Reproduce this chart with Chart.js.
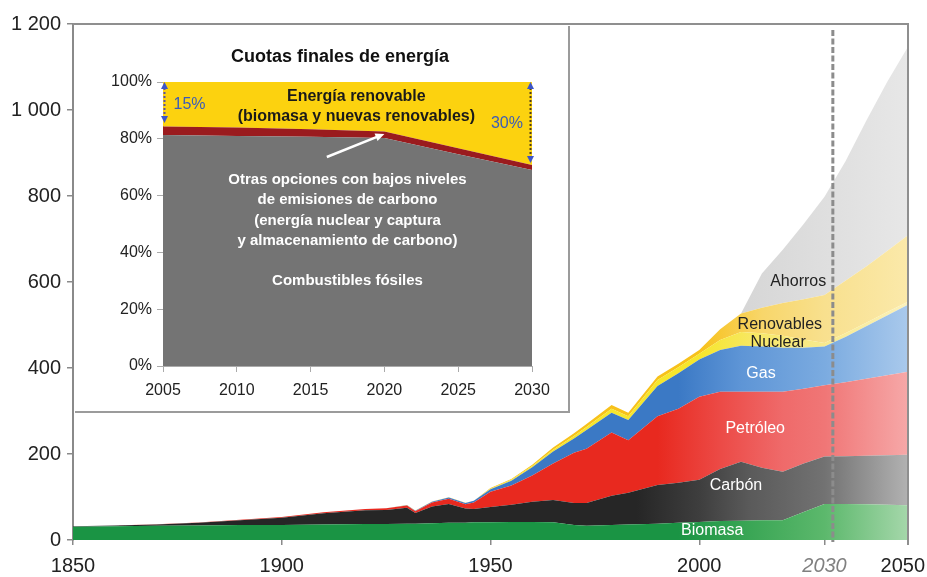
<!DOCTYPE html>
<html>
<head>
<meta charset="utf-8">
<script src="https://cdn.jsdelivr.net/npm/chart.js@4.4.1/dist/chart.umd.min.js"></script>
<style>
body { margin: 0; background: #fff; }
canvas { display: block; }
#wrap { position: relative; width: 927px; height: 577px; }
#inset { position: absolute; left: 75px; top: 26px; width: 495px; height: 387px; background: #fff;
         border-right: 2px solid #9b9b9b; border-bottom: 2px solid #9b9b9b; box-sizing: border-box; }
</style>
</head>
<body>
<div id="wrap">
  <canvas id="main" width="927" height="577"></canvas>
  <div id="inset"><canvas id="share" width="493" height="385"></canvas></div>
</div>
<script>
const FONT = "'Liberation Sans', Arial, sans-serif"

// main chart: energy by source, values of each band (stacked)
const years = [1850, 1860, 1870, 1880, 1890, 1900, 1910, 1920, 1925, 1930,
               1932, 1936, 1940, 1944, 1946, 1950, 1955, 1960, 1965, 1970,
               1973, 1979, 1983, 1990, 1995, 2000, 2005, 2010, 2015, 2020,
               2025, 2030, 2035, 2040, 2045, 2050]
const biomasa    = [31, 32, 33, 34, 35, 35, 36, 37, 37, 38,
                    38, 39, 40, 40, 41, 41, 42, 42, 41, 35,
                    33, 35, 36, 38, 40, 42, 44, 45, 46, 46,
                    65, 84, 84, 83, 82, 81]
const carbon     = [1, 2, 3, 6, 11, 17, 26, 32, 33, 37,
                    25, 39, 44, 33, 31, 36, 40, 47, 52, 51,
                    53, 68, 74, 90, 93, 98, 121, 137, 122, 113,
                    113, 110, 111, 113, 115, 117]
const petroleo   = [0, 0, 0.5, 0.5, 1, 1.5, 2.5, 3, 4, 5,
                    4, 9, 12, 10, 15, 35, 45, 61, 85, 117,
                    126, 147, 122, 160, 172, 193, 180, 163, 177, 186,
                    174, 166, 172, 179, 186, 193]
const gas        = [0, 0, 0, 0, 0, 0, 0, 0, 0, 1,
                    1, 2, 3, 3, 4, 6, 11, 19, 28, 33,
                    44, 46, 47, 70, 83, 87, 97, 107, 105, 102,
                    95, 90, 105, 122, 139, 156]
const nuclear    = [0, 0, 0, 0, 0, 0, 0, 0, 0, 0,
                    0, 0, 0, 0, 0, 1, 2, 3, 4, 6,
                    7, 9, 9, 14, 14, 13, 23, 32, 31, 28,
                    19, 8, 9, 8, 8, 7]
const renovables = [0, 0, 0, 0, 0, 0, 0, 0, 0, 0.5,
                    0.5, 0.5, 0.5, 0.5, 0.5, 2, 2, 3, 5, 6,
                    7, 9, 8, 8, 8, 9, 25, 43, 59, 76,
                    94, 112, 122, 131, 142, 155]
const ahorros    = [0, 0, 0, 0, 0, 0, 0, 0, 0, 0,
                    0, 0, 0, 0, 0, 0, 0, 0, 0, 0,
                    0, 0, 0, 0, 0, 0, 0, 0, 80, 124,
                    175, 228, 277, 339, 393, 438]
const xTicks = [1850, 1900, 1950, 2000, 2030, 2050]
const projectionYear = 2032

// inset: final energy shares (%)
const shareYears = [2005, 2010, 2015, 2020, 2025, 2030]
const fossilShare = [81.3, 81.0, 80.7, 80.3, 74.6, 69.0]
const lowCarbonShare = [3.0, 3.0, 2.7, 2.3, 2.1, 1.8]
const renewableShare = [15.7, 16.0, 16.6, 17.4, 23.3, 29.2]

// colours fade out towards the projection
const series = [
  { name: 'Biomasa', values: biomasa,
    stops: [[1850, '#1a9444'], [1995, '#1a9444'], [2012, '#3aa655'], [2030, '#5cb86c'], [2050, '#a5d7aa']] },
  { name: 'Carbón', values: carbon,
    stops: [[1850, '#262626'], [1985, '#262626'], [2000, '#3e3e3e'], [2012, '#5a5a5a'], [2030, '#727272'], [2050, '#b2b2b2']] },
  { name: 'Petróleo', values: petroleo,
    stops: [[1850, '#e8291f'], [1990, '#e8291f'], [2005, '#ec4a46'], [2020, '#ef6a6a'], [2030, '#f07676'], [2050, '#f6a8a8']] },
  { name: 'Gas', values: gas,
    stops: [[1850, '#3b79c5'], [1995, '#3b79c5'], [2010, '#5e95d6'], [2030, '#7babe0'], [2050, '#a9c9ec']] },
  { name: 'Nuclear', values: nuclear,
    stops: [[1850, '#f6e62c'], [2000, '#f6e62c'], [2015, '#f7e86c'], [2030, '#f8ea8e'], [2050, '#fbf1bb']] },
  { name: 'Renovables', values: renovables,
    stops: [[1850, '#f7c11a'], [2000, '#f7c11a'], [2015, '#f8d66a'], [2030, '#f8e08e'], [2050, '#fbe9aa']] },
  { name: 'Ahorros', values: ahorros,
    stops: [[2010, '#d6d6d6'], [2050, '#e7e7e7']] }
]

const seriesLabels = [
  { text: 'Ahorros', x: 2023.7, y: 600, color: '#222' },
  { text: 'Renovables', x: 2019.3, y: 502, color: '#222' },
  { text: 'Nuclear', x: 2018.9, y: 460, color: '#222' },
  { text: 'Gas', x: 2014.8, y: 386, color: '#fff' },
  { text: 'Petróleo', x: 2013.4, y: 258, color: '#fff' },
  { text: 'Carbón', x: 2008.8, y: 126, color: '#fff' },
  { text: 'Biomasa', x: 2003.1, y: 23, color: '#fff' }
]

const makeFill = (stops) => (context) => {
  const chart = context.chart
  const area = chart.chartArea
  if (!area) return stops[0][1]
  const xs = chart.scales.x
  const g = chart.ctx.createLinearGradient(area.left, 0, area.right, 0)
  stops.forEach(s => {
    const t = (xs.getPixelForValue(s[0]) - area.left) / (area.right - area.left)
    g.addColorStop(Math.min(1, Math.max(0, t)), s[1])
  })
  return g
}

const framePlugin = {
  id: 'frame',
  afterDatasetsDraw(chart) {
    const { ctx, chartArea: a, scales: { x, y } } = chart
    ctx.save()
    ctx.strokeStyle = '#8f8f8f'
    ctx.lineWidth = 2
    ctx.beginPath()
    ctx.moveTo(a.left, a.top)
    ctx.lineTo(a.right, a.top)
    ctx.lineTo(a.right, a.bottom + 5)
    ctx.stroke()

    // projection marker
    const px = x.getPixelForValue(projectionYear)
    ctx.setLineDash([6, 2.5])
    ctx.lineWidth = 3
    ctx.strokeStyle = '#8c8c8c'
    ctx.beginPath()
    ctx.moveTo(px, a.top + 6)
    ctx.lineTo(px, a.bottom + 2)
    ctx.stroke()
    ctx.setLineDash([])

    ctx.font = `16px ${FONT}`
    ctx.textAlign = 'center'
    ctx.textBaseline = 'middle'
    seriesLabels.forEach(l => {
      ctx.fillStyle = l.color
      ctx.fillText(l.text, x.getPixelForValue(l.x), y.getPixelForValue(l.y))
    })

    // year labels, kept inside the canvas
    xTicks.forEach(v => {
      const proj = v === 2030
      ctx.font = `${proj ? 'italic ' : ''}20px ${FONT}`
      ctx.fillStyle = proj ? '#808080' : '#222'
      const label = String(v)
      const w = ctx.measureText(label).width
      const cx = Math.min(x.getPixelForValue(v), chart.width - 2 - w / 2)
      ctx.fillText(label, cx, a.bottom + 26)
    })
    ctx.restore()
  }
}

new Chart('main', {
  type: 'line',
  data: {
    datasets: series.map((s, i) => ({
      label: s.name,
      data: years.map((yr, j) => ({ x: yr, y: s.values[j] })),
      fill: i === 0 ? 'origin' : '-1',
      backgroundColor: makeFill(s.stops),
      borderWidth: 0,
      pointRadius: 0,
      tension: 0
    }))
  },
  options: {
    responsive: false,
    animation: false,
    layout: { padding: { top: 24, right: 19, left: 0, bottom: 0 } },
    plugins: { legend: { display: false }, tooltip: { enabled: false } },
    scales: {
      x: {
        type: 'linear', min: 1850, max: 2050,
        afterBuildTicks: s => { s.ticks = xTicks.map(v => ({ value: v })) },
        afterFit: s => { s.height = 37; s.paddingLeft = 0; s.paddingRight = 0 },
        grid: { drawOnChartArea: false, tickLength: 5, color: '#8a8a8a', lineWidth: 1.5 },
        border: { display: false },
        ticks: { display: false }
      },
      y: {
        stacked: true, min: 0, max: 1200,
        afterFit: s => { s.width = 73; s.paddingTop = 0; s.paddingBottom = 0 },
        grid: { drawOnChartArea: false, tickLength: 6, color: '#8a8a8a', lineWidth: 1.5 },
        border: { color: '#8a8a8a', width: 2 },
        ticks: {
          stepSize: 200, padding: 6, color: '#222',
          font: { family: FONT, size: 20 },
          callback: v => (v >= 1000 ? Math.floor(v / 1000) + ' ' + String(v % 1000).padStart(3, '0') : String(v))
        }
      }
    }
  },
  plugins: [framePlugin]
})

// inset notes
const insetNotes = {
  id: 'insetNotes',
  afterDatasetsDraw(chart) {
    const { ctx, scales: { x, y } } = chart
    const X = v => x.getPixelForValue(v)
    const Y = v => y.getPixelForValue(v)
    ctx.save()
    ctx.textAlign = 'center'
    ctx.textBaseline = 'middle'

    ctx.fillStyle = '#111'
    ctx.font = `bold 18px ${FONT}`
    ctx.fillText('Cuotas finales de energía', 265, 31)

    ctx.font = `bold 16px ${FONT}`
    ctx.fillStyle = '#1a1a1a'
    ctx.fillText('Energía renovable', X(2018.1), Y(94.7))
    ctx.fillText('(biomasa y nuevas renovables)', X(2018.1), Y(87.7))

    ctx.font = `16px ${FONT}`
    ctx.fillStyle = '#3b5cb8'
    ctx.fillText('15%', X(2006.8), Y(91.9))
    ctx.fillText('30%', X(2028.3), Y(85.2))

    ctx.font = `bold 15px ${FONT}`
    ctx.fillStyle = '#fff'
    const notes = [['Otras opciones con bajos niveles', 65.5], ['de emisiones de carbono', 58.5],
                   ['(energía nuclear y captura', 51.2], ['y almacenamiento de carbono)', 44.1],
                   ['Combustibles fósiles', 30.0]]
    notes.forEach(n => ctx.fillText(n[0], X(2017.5), Y(n[1])))

    // double arrows for the renewable share
    const dblArrow = (px, y1, y2, lineColor) => {
      ctx.strokeStyle = lineColor
      ctx.lineWidth = 2
      ctx.setLineDash([2, 2])
      ctx.beginPath()
      ctx.moveTo(px, y1 + 6)
      ctx.lineTo(px, y2 - 6)
      ctx.stroke()
      ctx.setLineDash([])
      ctx.fillStyle = '#3d55c8'
      ctx.beginPath()
      ctx.moveTo(px, y1); ctx.lineTo(px - 3.5, y1 + 7); ctx.lineTo(px + 3.5, y1 + 7)
      ctx.fill()
      ctx.beginPath()
      ctx.moveTo(px, y2); ctx.lineTo(px - 3.5, y2 - 7); ctx.lineTo(px + 3.5, y2 - 7)
      ctx.fill()
    }
    dblArrow(X(2005.1), Y(100), Y(85.6), '#5a4fa0')
    dblArrow(X(2029.9), Y(100), Y(71.5), '#4a3a20')

    // white pointer to the low-carbon band
    const x1 = X(2016.1), y1 = Y(73.6), x2 = X(2020.0), y2 = Y(81.7)
    const ang = Math.atan2(y2 - y1, x2 - x1)
    ctx.strokeStyle = '#fff'
    ctx.fillStyle = '#fff'
    ctx.lineWidth = 2.5
    ctx.beginPath()
    ctx.moveTo(x1, y1)
    ctx.lineTo(x2 - 6 * Math.cos(ang), y2 - 6 * Math.sin(ang))
    ctx.stroke()
    ctx.beginPath()
    ctx.moveTo(x2, y2)
    ctx.lineTo(x2 - 9 * Math.cos(ang) + 4 * Math.sin(ang), y2 - 9 * Math.sin(ang) - 4 * Math.cos(ang))
    ctx.lineTo(x2 - 9 * Math.cos(ang) - 4 * Math.sin(ang), y2 - 9 * Math.sin(ang) + 4 * Math.cos(ang))
    ctx.fill()
    ctx.restore()
  }
}

const shareSets = [
  { label: 'Combustibles fósiles', values: fossilShare, color: '#747474' },
  { label: 'Otras opciones bajas en carbono', values: lowCarbonShare, color: '#9a1b1e' },
  { label: 'Energía renovable', values: renewableShare, color: '#fcd20f' }
]

new Chart('share', {
  type: 'line',
  data: {
    datasets: shareSets.map((s, i) => ({
      label: s.label,
      data: shareYears.map((yr, j) => ({ x: yr, y: s.values[j] })),
      fill: i === 0 ? 'origin' : '-1',
      backgroundColor: s.color,
      borderWidth: 0,
      pointRadius: 0
    }))
  },
  options: {
    responsive: false,
    animation: false,
    layout: { padding: { top: 56, right: 36, left: 0, bottom: 0 } },
    plugins: { legend: { display: false }, tooltip: { enabled: false } },
    scales: {
      x: {
        type: 'linear', min: 2005, max: 2030,
        afterFit: s => { s.height = 45; s.paddingLeft = 0; s.paddingRight = 0 },
        grid: { drawOnChartArea: false, tickLength: 6, color: '#aaa' },
        border: { color: '#aaa' },
        ticks: { stepSize: 5, padding: 9, color: '#222', font: { family: FONT, size: 16 }, callback: v => String(v) }
      },
      y: {
        stacked: true, min: 0, max: 100,
        afterFit: s => { s.width = 88; s.paddingTop = 0; s.paddingBottom = 0 },
        grid: { drawOnChartArea: false, tickLength: 6, color: '#aaa' },
        border: { color: '#aaa' },
        ticks: { stepSize: 20, padding: 5, color: '#222', font: { family: FONT, size: 16 }, callback: v => v + '%' }
      }
    }
  },
  plugins: [insetNotes]
})
</script>
</body>
</html>
